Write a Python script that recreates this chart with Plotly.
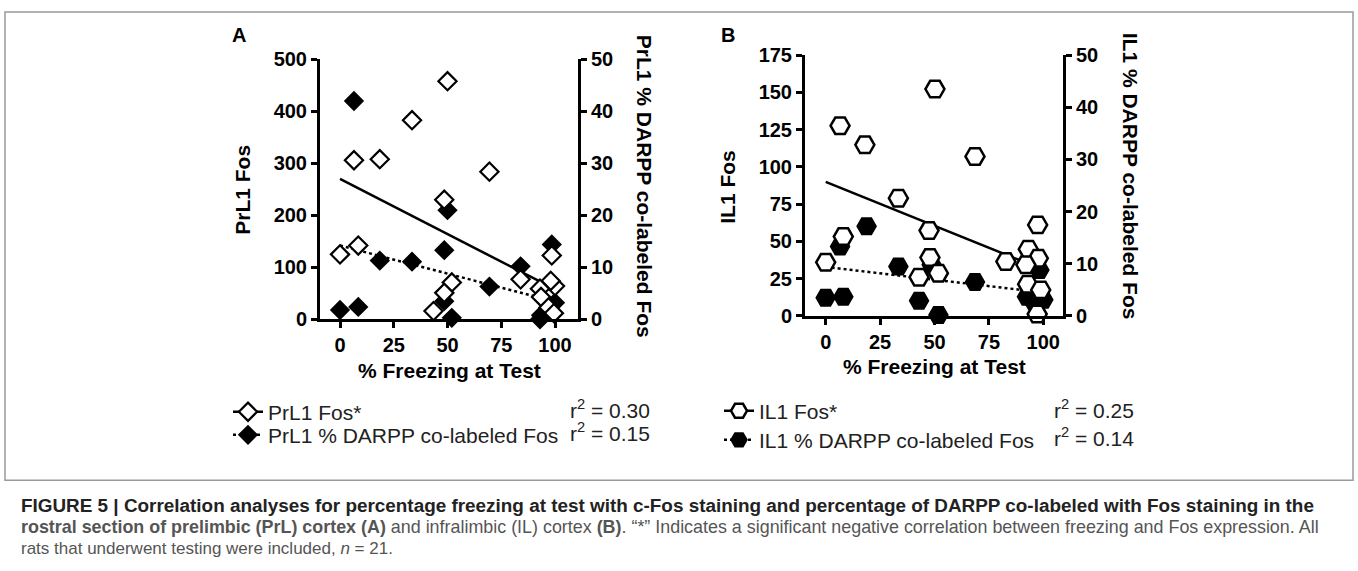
import plotly.graph_objects as go

W, H = 1358, 571

# ---------------- Data ----------------
# Panel A: PrL1
prl_fos_x = [0, 6.5, 8.5, 18.5, 33.5, 50, 48.5, 69.5, 52, 48.5, 43.5, 84, 98.5, 100, 98, 93, 93.5, 97, 99.5]
prl_fos_y = [125, 306, 142, 308, 383, 458, 230, 284, 71, 51, 16, 77, 123, 64, 74, 59, 43, 23, 12]
prl_darpp_x = [0, 6.5, 8.5, 18.5, 33.5, 48.5, 50, 48.5, 52, 69.5, 84, 98.5, 100, 93, 93.5]
prl_darpp_y = [1.8, 42, 2.4, 11.3, 11.1, 13.3, 21, 3.5, 0.3, 6.3, 10.2, 14.4, 3.2, 0, 0.8]
prl_fos_fit_x = [0, 100]
prl_fos_fit_y = [270, 58]
prl_darpp_fit_x = [0, 100]
prl_darpp_fit_y = [14.2, 3.4]

# Panel B: IL1
il_fos_x = [0, 6.6, 8.1, 18, 33.4, 50.2, 68.6, 47.5, 47.9, 42.9, 51.8, 82.8, 97.4, 93.1, 97.7, 92, 92.8, 98.8, 97.2]
il_fos_y = [36, 127.6, 53.3, 114.8, 79, 152.2, 107, 57.3, 39.2, 26, 28.7, 36.5, 61.1, 44.8, 38.7, 34.3, 21.3, 17.5, 1.3]
il_darpp_x = [0, 8.1, 6.6, 18.8, 33.4, 42.9, 48.7, 51.8, 68.6, 98.2, 92.5, 95.5, 100]
il_darpp_y = [3.5, 3.7, 13.3, 17.2, 9.5, 2.9, 9.8, 0.2, 6.5, 8.8, 3.7, 2.8, 3.1]
il_fos_fit_x = [0, 100]
il_fos_fit_y = [90, 31]
il_darpp_fit_x = [0, 100]
il_darpp_fit_y = [9.4, 4.5]

x_ticks = [0, 25, 50, 75, 100]
prl_fos_ticks = [0, 100, 200, 300, 400, 500]
il_fos_ticks = [0, 25, 50, 75, 100, 125, 150, 175]
pct_ticks = [0, 10, 20, 30, 40, 50]

legend_a = ["PrL1 Fos*", "PrL1 % DARPP co-labeled Fos"]
legend_b = ["IL1 Fos*", "IL1 % DARPP co-labeled Fos"]
r2_a = ["0.30", "0.15"]
r2_b = ["0.25", "0.14"]

# ---------------- Helpers ----------------
FONT = "Liberation Sans, Arial, sans-serif"


def px(x):
    return x / W


def py(t):
    # target screen row -> paper fraction (compensates for the capture's vertical offset/scale)
    y = (t - 11.5) / 0.96
    y = min(max(y, 0.0), H)
    return 1 - y / H


fig = go.Figure()

LW = 2.5
OPEN_D = dict(symbol="diamond", size=14, color="white", line=dict(color="black", width=2.2))
FILL_D = dict(symbol="diamond", size=14, color="black", line=dict(color="black", width=1.5))
OPEN_H = dict(symbol="hexagon2", size=19, color="white", line=dict(color="black", width=2.5))
FILL_H = dict(symbol="hexagon2", size=19, color="black", line=dict(color="black", width=1.5))

# ---- Panel A ----
fig.add_trace(go.Scatter(x=prl_darpp_fit_x, y=prl_darpp_fit_y, mode="lines",
                         line=dict(color="black", width=LW, dash="dot"),
                         xaxis="x", yaxis="y", showlegend=False, hoverinfo="skip"))
fig.add_trace(go.Scatter(x=prl_darpp_x, y=prl_darpp_y, mode="markers", marker=FILL_D,
                         xaxis="x", yaxis="y", showlegend=False, cliponaxis=False))
fig.add_trace(go.Scatter(x=prl_fos_fit_x, y=prl_fos_fit_y, mode="lines",
                         line=dict(color="black", width=LW),
                         xaxis="x", yaxis="y2", showlegend=False, hoverinfo="skip"))
fig.add_trace(go.Scatter(x=prl_fos_x, y=prl_fos_y, mode="markers", marker=OPEN_D,
                         xaxis="x", yaxis="y2", showlegend=False, cliponaxis=False))
# legend entries A
fig.add_trace(go.Scatter(x=[None], y=[None], mode="lines+markers", name=legend_a[0],
                         marker=OPEN_D, line=dict(color="black", width=LW),
                         xaxis="x", yaxis="y2", legend="legend"))
fig.add_trace(go.Scatter(x=[None], y=[None], mode="lines+markers", name=legend_a[1],
                         marker=FILL_D, line=dict(color="black", width=LW, dash="dot"),
                         xaxis="x", yaxis="y", legend="legend2"))

# ---- Panel B ----
fig.add_trace(go.Scatter(x=il_darpp_fit_x, y=il_darpp_fit_y, mode="lines",
                         line=dict(color="black", width=LW, dash="dot"),
                         xaxis="x2", yaxis="y3", showlegend=False, hoverinfo="skip"))
fig.add_trace(go.Scatter(x=il_darpp_x, y=il_darpp_y, mode="markers", marker=FILL_H,
                         xaxis="x2", yaxis="y3", showlegend=False, cliponaxis=False))
fig.add_trace(go.Scatter(x=il_fos_fit_x, y=il_fos_fit_y, mode="lines",
                         line=dict(color="black", width=LW),
                         xaxis="x2", yaxis="y4", showlegend=False, hoverinfo="skip"))
fig.add_trace(go.Scatter(x=il_fos_x, y=il_fos_y, mode="markers", marker=OPEN_H,
                         xaxis="x2", yaxis="y4", showlegend=False, cliponaxis=False))
fig.add_trace(go.Scatter(x=[None], y=[None], mode="lines+markers", name=legend_b[0],
                         marker=OPEN_H, line=dict(color="black", width=LW),
                         xaxis="x2", yaxis="y4", legend="legend3"))
fig.add_trace(go.Scatter(x=[None], y=[None], mode="lines+markers", name=legend_b[1],
                         marker=FILL_H, line=dict(color="black", width=LW, dash="dot"),
                         xaxis="x2", yaxis="y3", legend="legend4"))

tickfont = dict(family=FONT, size=20, color="black", weight="bold")
axis_common = dict(showline=True, linewidth=3, linecolor="black", ticks="outside",
                   ticklen=6, tickwidth=3, tickcolor="black", showgrid=False,
                   zeroline=False, tickfont=tickfont, fixedrange=True)

fig.update_layout(
    xaxis=dict(domain=[px(320), px(578)], range=[-9.3, 110.7], anchor="y",
               tickvals=x_ticks, **axis_common),
    yaxis=dict(domain=[py(319.4), py(59.8)], range=[0, 50], anchor="x", side="right",
               tickvals=pct_ticks, **axis_common),
    yaxis2=dict(range=[0, 500], overlaying="y", anchor="x", side="left",
                tickvals=prl_fos_ticks, **axis_common),
    xaxis2=dict(domain=[px(805), px(1063)], range=[-9.51, 109.05], anchor="y3",
                tickvals=x_ticks, **axis_common),
    yaxis3=dict(domain=[py(316), py(55.5)], range=[0, 50], anchor="x2", side="right",
                tickvals=pct_ticks, **axis_common),
    yaxis4=dict(range=[0, 175], overlaying="y3", anchor="x2", side="left",
                tickvals=il_fos_ticks, **axis_common),
)

legend_font = dict(family=FONT, size=21, color="#222")


def leg(x, y):
    return dict(x=px(x), y=py(y), xanchor="left", yanchor="middle", font=legend_font,
                bgcolor="rgba(0,0,0,0)", itemclick=False, itemdoubleclick=False)


fig.update_layout(
    legend=leg(228, 412),
    legend2=leg(228, 435),
    legend3=leg(719, 411),
    legend4=leg(719, 440),
)

annotations = []


def ann(text, x, y, size=20, bold=False, angle=0, xanchor="center", yanchor="middle", color="black"):
    annotations.append(dict(text=text, x=px(x), y=py(y), xref="paper", yref="paper",
                            showarrow=False, textangle=angle, xanchor=xanchor, yanchor=yanchor,
                            font=dict(family=FONT, size=size, color=color,
                                      weight="bold" if bold else "normal")))


# panel letters
ann("A", 239, 35, size=20, bold=True)
ann("B", 728, 35, size=20, bold=True)
# axis titles
ann("PrL1 Fos", 243, 190, size=21, bold=True, angle=-90)
ann("PrL1 % DARPP co-labeled Fos", 644, 186, size=21, bold=True, angle=90)
ann("% Freezing at Test", 449, 370, size=21, bold=True)
ann("IL1 Fos", 728, 187, size=21, bold=True, angle=-90)
ann("IL1 % DARPP co-labeled Fos", 1130, 176, size=21, bold=True, angle=90)
ann("% Freezing at Test", 934, 366, size=21, bold=True)
# r^2 values
ann("r<sup>2</sup> = " + r2_a[0], 568, 409, size=21, xanchor="left", color="#222")
ann("r<sup>2</sup> = " + r2_a[1], 568, 432, size=21, xanchor="left", color="#222")
ann("r<sup>2</sup> = " + r2_b[0], 1052, 409, size=21, xanchor="left", color="#222")
ann("r<sup>2</sup> = " + r2_b[1], 1052, 437, size=21, xanchor="left", color="#222")

# caption
cap1 = ("<b>FIGURE 5 | Correlation analyses for percentage freezing at test with c-Fos staining "
        "and percentage of DARPP co-labeled with Fos staining in the</b>")
cap2 = ("<b>rostral section of prelimbic (PrL) cortex (A)</b> and infralimbic (IL) cortex <b>(B)</b>. "
        "“*” Indicates a significant negative correlation between freezing and Fos expression. All")
cap3 = "rats that underwent testing were included, <i>n</i> = 21."
ann(cap1, 19, 505, size=18.9, xanchor="left", color="#222")
ann(cap2, 19, 527, size=17.9, xanchor="left", color="#555")
ann(cap3, 19, 548, size=17.0, xanchor="left", color="#555")

fig.update_layout(
    annotations=annotations,
    shapes=[dict(type="rect", xref="paper", yref="paper", x0=px(5), x1=px(1353),
                 y0=py(480), y1=1 - 1.0 / H, line=dict(color="#999", width=1.5))],
    width=W, height=H, margin=dict(l=0, r=0, t=0, b=0),
    paper_bgcolor="white", plot_bgcolor="white",
    font=dict(family=FONT, color="black"),
)

fig.write_html("out.html", config={"displayModeBar": False},
               post_script="document.body.style.margin='0px';document.body.style.overflow='hidden';")
